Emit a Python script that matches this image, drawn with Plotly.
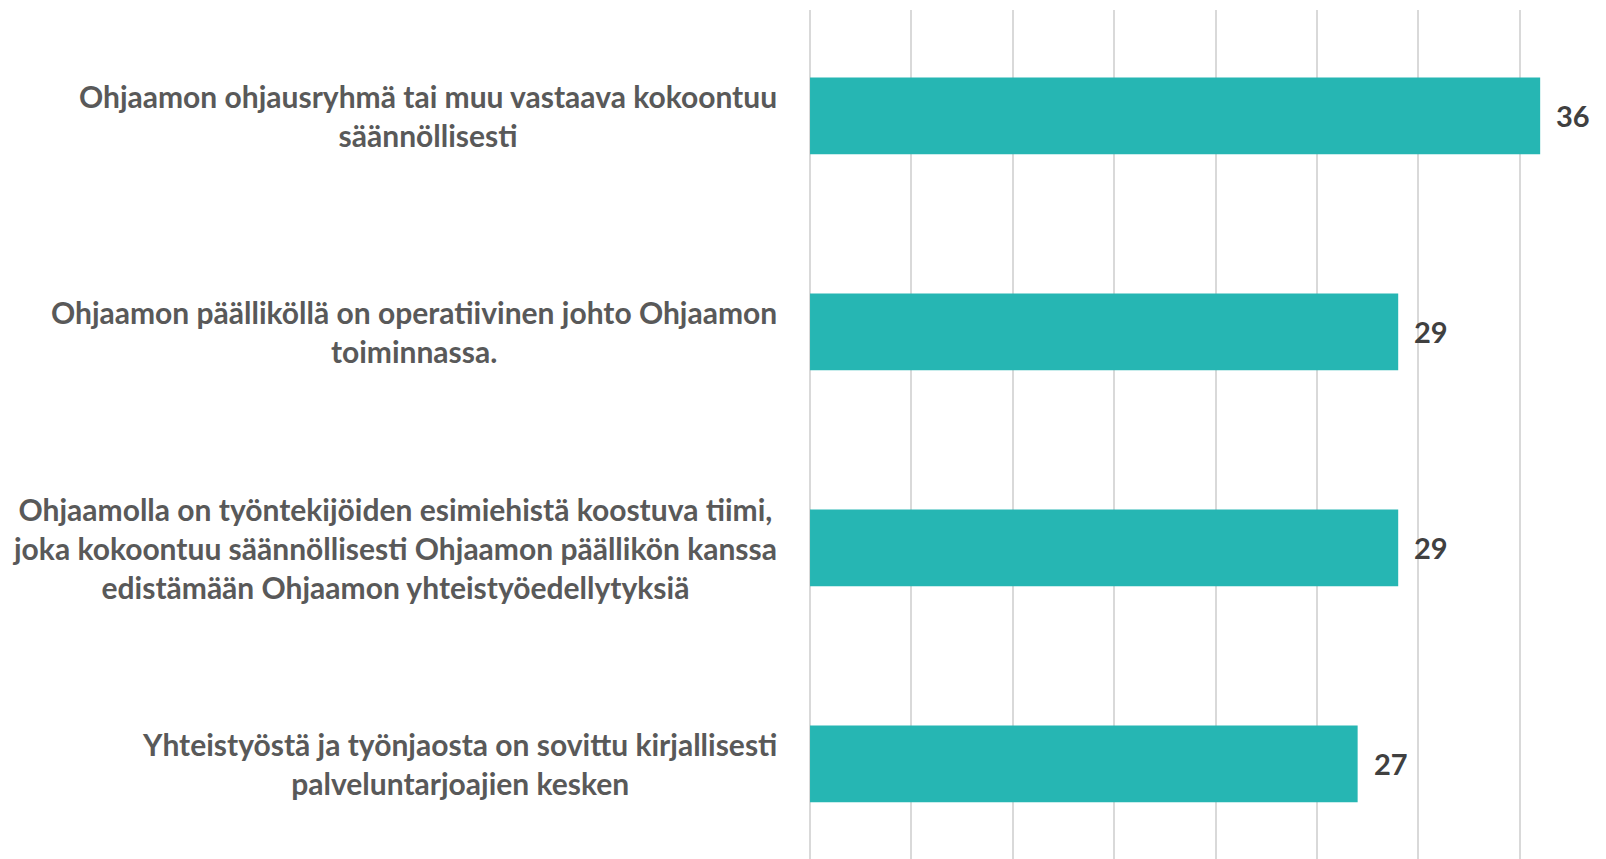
import plotly.graph_objects as go

categories = [
    "Ohjaamon ohjausryhmä tai muu vastaava kokoontuu<br>säännöllisesti",
    "Ohjaamon päällikö" + "llä on operatiivinen johto Ohjaamon<br>toiminnassa.",
    "Ohjaamolla on työntekijöiden esimiehistä koostuva tiimi,<br>joka kokoontuu säännöllisesti Ohjaamon päällikön kanssa<br>edistämään Ohjaamon yhteistyöedellytyksiä",
    "Yhteistyöstä ja työnjaosta on sovittu kirjallisesti<br>palveluntarjoajien kesken",
]
values = [36, 29, 29, 27]

BAR = "#26B6B3"
LABEL = "#595959"
VAL = "#404040"
FONT = "Lato"

fig = go.Figure()
fig.add_trace(go.Bar(
    x=values, y=list(range(len(categories))), orientation="h",
    marker=dict(color=BAR, line=dict(width=0)),
    width=0.355, hoverinfo="skip",
))

for i, (c, v) in enumerate(zip(categories, values)):
    fig.add_annotation(
        x=0, xref="paper", y=i, yref="y", text=c, showarrow=False,
        xanchor="right", yanchor="middle", align="center", xshift=-29,
        font=dict(family=FONT, size=30, color=LABEL, weight="bold"),
    )
    fig.add_annotation(
        x=v, xref="x", y=i, yref="y", text=str(v), showarrow=False,
        xanchor="left", yanchor="middle", xshift=14,
        font=dict(family=FONT, size=29, color=VAL, weight="bold"),
    )

fig.update_layout(
    width=1606, height=859,
    margin=dict(l=800, r=0, t=2, b=0),
    plot_bgcolor="white", paper_bgcolor="white",
    showlegend=False,
    xaxis=dict(range=[-0.1, 39.64], dtick=5, tick0=0, showgrid=True,
               gridcolor="#D9D9D9", gridwidth=1.5, showticklabels=False,
               zeroline=True, zerolinecolor="#D9D9D9", zerolinewidth=1.5,
               showline=False, ticks=""),
    yaxis=dict(range=[3.477, -0.49], showticklabels=False, showgrid=False,
               zeroline=False, showline=False, ticks=""),
)

fig.write_html("out.html")
